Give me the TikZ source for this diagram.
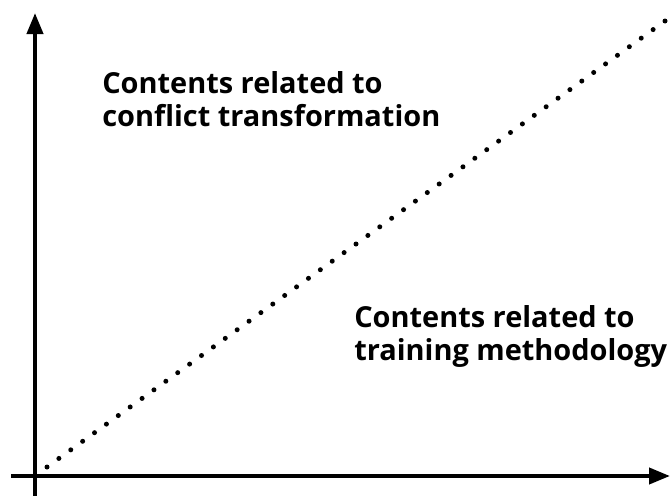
\documentclass[tikz,border=0pt]{standalone}
\usepackage{fontspec}
\setmainfont{Open Sans}
\usetikzlibrary{arrows.meta,calc}

\begin{document}
\begin{tikzpicture}[x=0.75pt,y=0.75pt,yscale=-1,xscale=1,
	axis/.style={line width=3pt,-{Triangle[length=15.75pt,width=12pt]}},
	label/.style={anchor=north west,inner sep=0pt,align=left,font=\bfseries\fontsize{21.7}{24.75}\selectfont}]
	%set diagram left start at 0, and has size of 671 x 496
	\useasboundingbox (0,0) rectangle (671,496);

	% Axis ends
	\coordinate (ybot) at (35,496);
	\coordinate (ytop) at (35,13);
	\coordinate (xleft) at (11,476);
	\coordinate (xright) at (670,476);
	% Diagonal ends
	\coordinate (dstart) at (47,467);
	\coordinate (dend) at (665,21);

	% Axes
	\draw[axis] (ybot) -- (ytop);
	\draw[axis] (xleft) -- (xright);
	% Dotted diagonal
	\foreach \i in {0,...,52}
		\fill ($(dstart)!\i/52!(dend)$) circle (2.5);

	% Text Node
	\node[label] (conflict) at (102,71) {Contents related to\\conflict transformation};
	% Text Node
	\node[label] (training) at (354,305) {Contents related to\\training methodology};
\end{tikzpicture}
\end{document}
